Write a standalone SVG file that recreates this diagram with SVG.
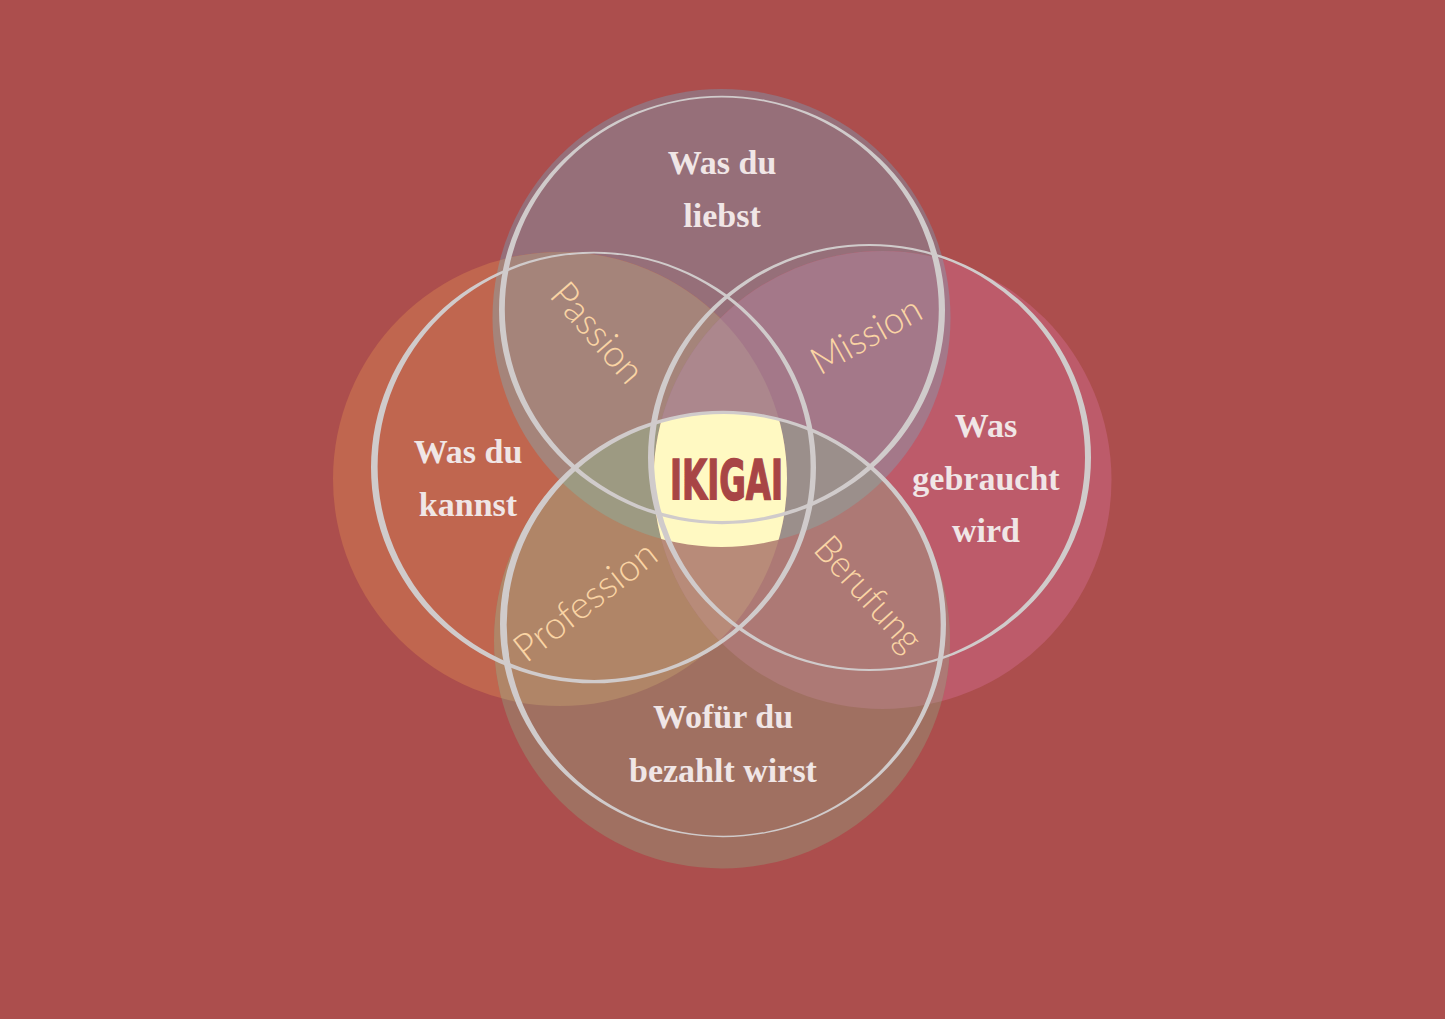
<svg xmlns="http://www.w3.org/2000/svg" width="1445" height="1019" viewBox="0 0 1445 1019">
  <defs>
    <clipPath id="kT"><circle cx="721.5" cy="318" r="229"/></clipPath>
    <clipPath id="kL"><circle cx="560" cy="479" r="227"/></clipPath>
    <clipPath id="kR"><circle cx="882.5" cy="480" r="229"/></clipPath>
    <clipPath id="kB"><circle cx="722" cy="640.5" r="228"/></clipPath>
    <style>
      .ring { fill: #D0CBCB; fill-rule: evenodd; }
      .main { font-family: "Liberation Serif", "DejaVu Serif", serif; font-weight: bold; font-size: 34px; fill: #F0E6E6; text-anchor: middle; }
      .sub { font-family: "Lato", "Liberation Sans", sans-serif; font-weight: 300; font-size: 38px; fill: #FAD4A4; text-anchor: middle; }
      .center { font-family: "Liberation Sans Narrow", "DejaVu Sans Condensed", "Liberation Sans", sans-serif; font-weight: bold; font-size: 56px; fill: #A84545; stroke: #A84545; stroke-width: 1.4; text-anchor: middle; }
    </style>
  </defs>

  <rect width="1445" height="1019" fill="#AC4E4D"/>

  <g id="fills">
    <circle cx="721.5" cy="318" r="229" fill="#966F79"/>
    <circle cx="560" cy="479" r="227" fill="#C0664F"/>
    <circle cx="882.5" cy="480" r="229" fill="#BD5B6A"/>
    <circle cx="722" cy="640.5" r="228" fill="#A07061"/>
    <g clip-path="url(#kL)"><circle cx="721.5" cy="318" r="229" fill="#A5847A"/></g>
    <g clip-path="url(#kR)"><circle cx="721.5" cy="318" r="229" fill="#A47889"/></g>
    <g clip-path="url(#kL)"><circle cx="722" cy="640.5" r="228" fill="#B08567"/></g>
    <g clip-path="url(#kR)"><circle cx="722" cy="640.5" r="228" fill="#AD7975"/></g>
    <g clip-path="url(#kL)"><g clip-path="url(#kB)"><circle cx="721.5" cy="318" r="229" fill="#9D9A82"/></g></g>
    <g clip-path="url(#kR)"><g clip-path="url(#kB)"><circle cx="721.5" cy="318" r="229" fill="#9B8F8B"/></g></g>
    <g clip-path="url(#kL)"><g clip-path="url(#kR)"><circle cx="721.5" cy="318" r="229" fill="#AC878D"/></g></g>
    <g clip-path="url(#kL)"><g clip-path="url(#kR)"><circle cx="722" cy="640.5" r="228" fill="#B88B79"/></g></g>
    <g clip-path="url(#kL)"><g clip-path="url(#kR)"><g clip-path="url(#kB)"><circle cx="721.5" cy="318" r="229" fill="#FFF9C2"/></g></g></g>
  </g>

  <g id="outlines">
    <path class="ring" d="M 499 310 a 223 214.2 0 1 0 446 0 a 223 214.2 0 1 0 -446 0 Z M 504.8 309.2 a 217 211.8 0 1 0 434 0 a 217 211.8 0 1 0 -434 0 Z"/>
    <path class="ring" d="M 371 467.5 a 222.5 215.8 0 1 0 445 0 a 222.5 215.8 0 1 0 -445 0 Z M 377.6 466.7 a 216.5 213.2 0 1 0 433 0 a 216.5 213.2 0 1 0 -433 0 Z"/>
    <path class="ring" d="M 648 457.5 a 221.5 213.6 0 1 0 443 0 a 221.5 213.6 0 1 0 -443 0 Z M 654 457.5 a 215.5 211.4 0 1 0 431 0 a 215.5 211.4 0 1 0 -431 0 Z"/>
    <path class="ring" d="M 500 624 a 223 213.2 0 1 0 446 0 a 223 213.2 0 1 0 -446 0 Z M 506.7 624.8 a 217 210.8 0 1 0 434 0 a 217 210.8 0 1 0 -434 0 Z"/>
  </g>

  <g id="node-love">
    <text class="main" x="722" y="174">Was du</text>
    <text class="main" x="722" y="227">liebst</text>
  </g>
  <g id="node-can">
    <text class="main" x="468" y="463">Was du</text>
    <text class="main" x="468" y="516">kannst</text>
  </g>
  <g id="node-need">
    <text class="main" x="986" y="437">Was</text>
    <text class="main" x="986" y="490">gebraucht</text>
    <text class="main" x="986" y="542">wird</text>
  </g>
  <g id="node-paid">
    <text class="main" x="723" y="728">Wofür du</text>
    <text class="main" x="723" y="782">bezahlt wirst</text>
  </g>

  <g id="node-passion">
    <text class="sub" transform="translate(597 333) rotate(49)" dy="0.33em" textLength="120" lengthAdjust="spacingAndGlyphs">Passion</text>
  </g>
  <g id="node-mission">
    <text class="sub" transform="translate(866 335) rotate(-29)" dy="0.35em" textLength="120" lengthAdjust="spacingAndGlyphs">Mission</text>
  </g>
  <g id="node-profession">
    <text class="sub" transform="translate(585 601) rotate(-38)" dy="0.35em" textLength="170" lengthAdjust="spacingAndGlyphs">Profession</text>
  </g>
  <g id="node-berufung">
    <text class="sub" transform="translate(866 596) rotate(48)" dy="0.25em" textLength="140" lengthAdjust="spacingAndGlyphs">Berufung</text>
  </g>

  <g id="node-ikigai">
    <text class="center" x="726.5" y="499" textLength="113" lengthAdjust="spacingAndGlyphs">IKIGAI</text>
  </g>

  <g id="connectors"></g>
</svg>
